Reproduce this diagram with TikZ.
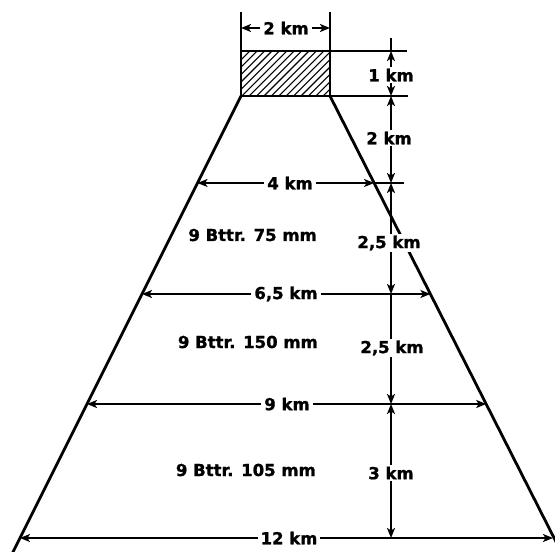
\documentclass[tikz,border=0pt]{standalone}
\usepackage{fontspec}
\setmainfont{DejaVu Sans}
\newfontfamily\lblfont{DejaVu Sans}[UprightFont={* Bold}, FakeBold=1.2]
\usetikzlibrary{arrows.meta}
\begin{document}
\begin{tikzpicture}[x=1bp,y=-1bp,
  lbl/.style={font=\lblfont\fontsize{16.5bp}{18bp}\selectfont, inner sep=0bp},
  dimlbl/.style={lbl, fill=white, inner xsep=3bp, inner ysep=2bp},
  side/.style={line width=2.8bp, line cap=round},
  dimline/.style={line width=1.8bp},
  tip/.tip={Stealth[length=10bp,width=8bp,inset=2.5bp]},
  arr/.style={dimline, tip-tip},
  arrend/.style={dimline, -tip},
  hatch/.style={line width=1.1bp}
]
\useasboundingbox (0,0) rectangle (555,552);
\clip (0,0) rectangle (555,552);
% corners of the rectangle
\coordinate (TL) at (241,51);
\coordinate (TR) at (330,51);
\coordinate (BL) at (241,96);
\coordinate (BR) at (330,96);
% trapezoid sides
\coordinate (Lend) at (11,556);
\coordinate (Rend) at (563.2,556);
\coordinate (L183) at (197.5,183);
\coordinate (R183) at (374.1,183);
\coordinate (L294) at (142,294);
\coordinate (R294) at (430.4,294);
\coordinate (L404) at (87,404);
\coordinate (R404) at (486.2,404);
\coordinate (L538) at (20,538);
\coordinate (R538) at (553,538);
% vertical dimension line
\coordinate (V38) at (391,38);
\coordinate (V51) at (391,51);
\coordinate (V96) at (391,96);
\coordinate (V183) at (391,183);
\coordinate (V294) at (391,294);
\coordinate (V404) at (391,404);
\coordinate (V538) at (391,538);
% extension lines ends
\coordinate (E51) at (407,51);
\coordinate (E96) at (408,96);
\coordinate (E183) at (404,183);
\coordinate (TLtop) at (241,12);
\coordinate (TRtop) at (330,12);
\coordinate (A1) at (241,28);
\coordinate (A2) at (330,28);

% hatching
\begin{scope}
\clip (TL) rectangle (BR);
\foreach \i in {0,...,20} \draw[hatch] ({190+\i*7.4},96) -- ++(60,-60);
\end{scope}
\draw[side] (TL) rectangle (BR);
\draw[side] (BL) -- (Lend);
\draw[side] (BR) -- (Rend);

% extension lines
\draw[dimline] (TL) -- (TLtop);
\draw[dimline] (TR) -- (TRtop);
\draw[dimline] (TR) -- (E51);
\draw[dimline] (BR) -- (E96);
\draw[dimline] (R183) -- (E183);
\draw[dimline] (V38) -- (V51);

% horizontal dimensions
\draw[arr] (A1) -- (A2);
\draw[arr] (L183) -- (R183);
\draw[arr] (L294) -- (R294);
\draw[arr] (L404) -- (R404);
\draw[arr] (L538) -- (R538);

% vertical dimensions
\draw[arr] (V51) -- (V96);
\draw[arr] (V96) -- (V183);
\draw[arr] (V183) -- (V294);
\draw[arrend] (V294) -- (V404);
\draw[arr] (V404) -- (V538);

% labels
\node[dimlbl] (w2) at (286,28) {2 km};
\node[dimlbl] (w4) at (290,183) {4 km};
\node[dimlbl] (w65) at (286,294) {6,5 km};
\node[dimlbl] (w9) at (287,404) {9 km};
\node[dimlbl] (w12) at (289,538) {12 km};
\node[dimlbl] (h1) at (391,75) {1 km};
\node[dimlbl] (h2) at (389,138) {2 km};
\node[dimlbl] (h25a) at (389,243) {2,5 km};
\node[dimlbl] (h25b) at (392,348) {2,5 km};
\node[dimlbl] (h3) at (391,473) {3 km};
\node[lbl, anchor=east] (b75) at (317,235) {9 Bttr. 75 mm};
\node[lbl, anchor=east] (b150) at (318,342) {9 Bttr. 150 mm};
\node[lbl, anchor=east] (b105) at (316,470) {9 Bttr. 105 mm};
\end{tikzpicture}
\end{document}
